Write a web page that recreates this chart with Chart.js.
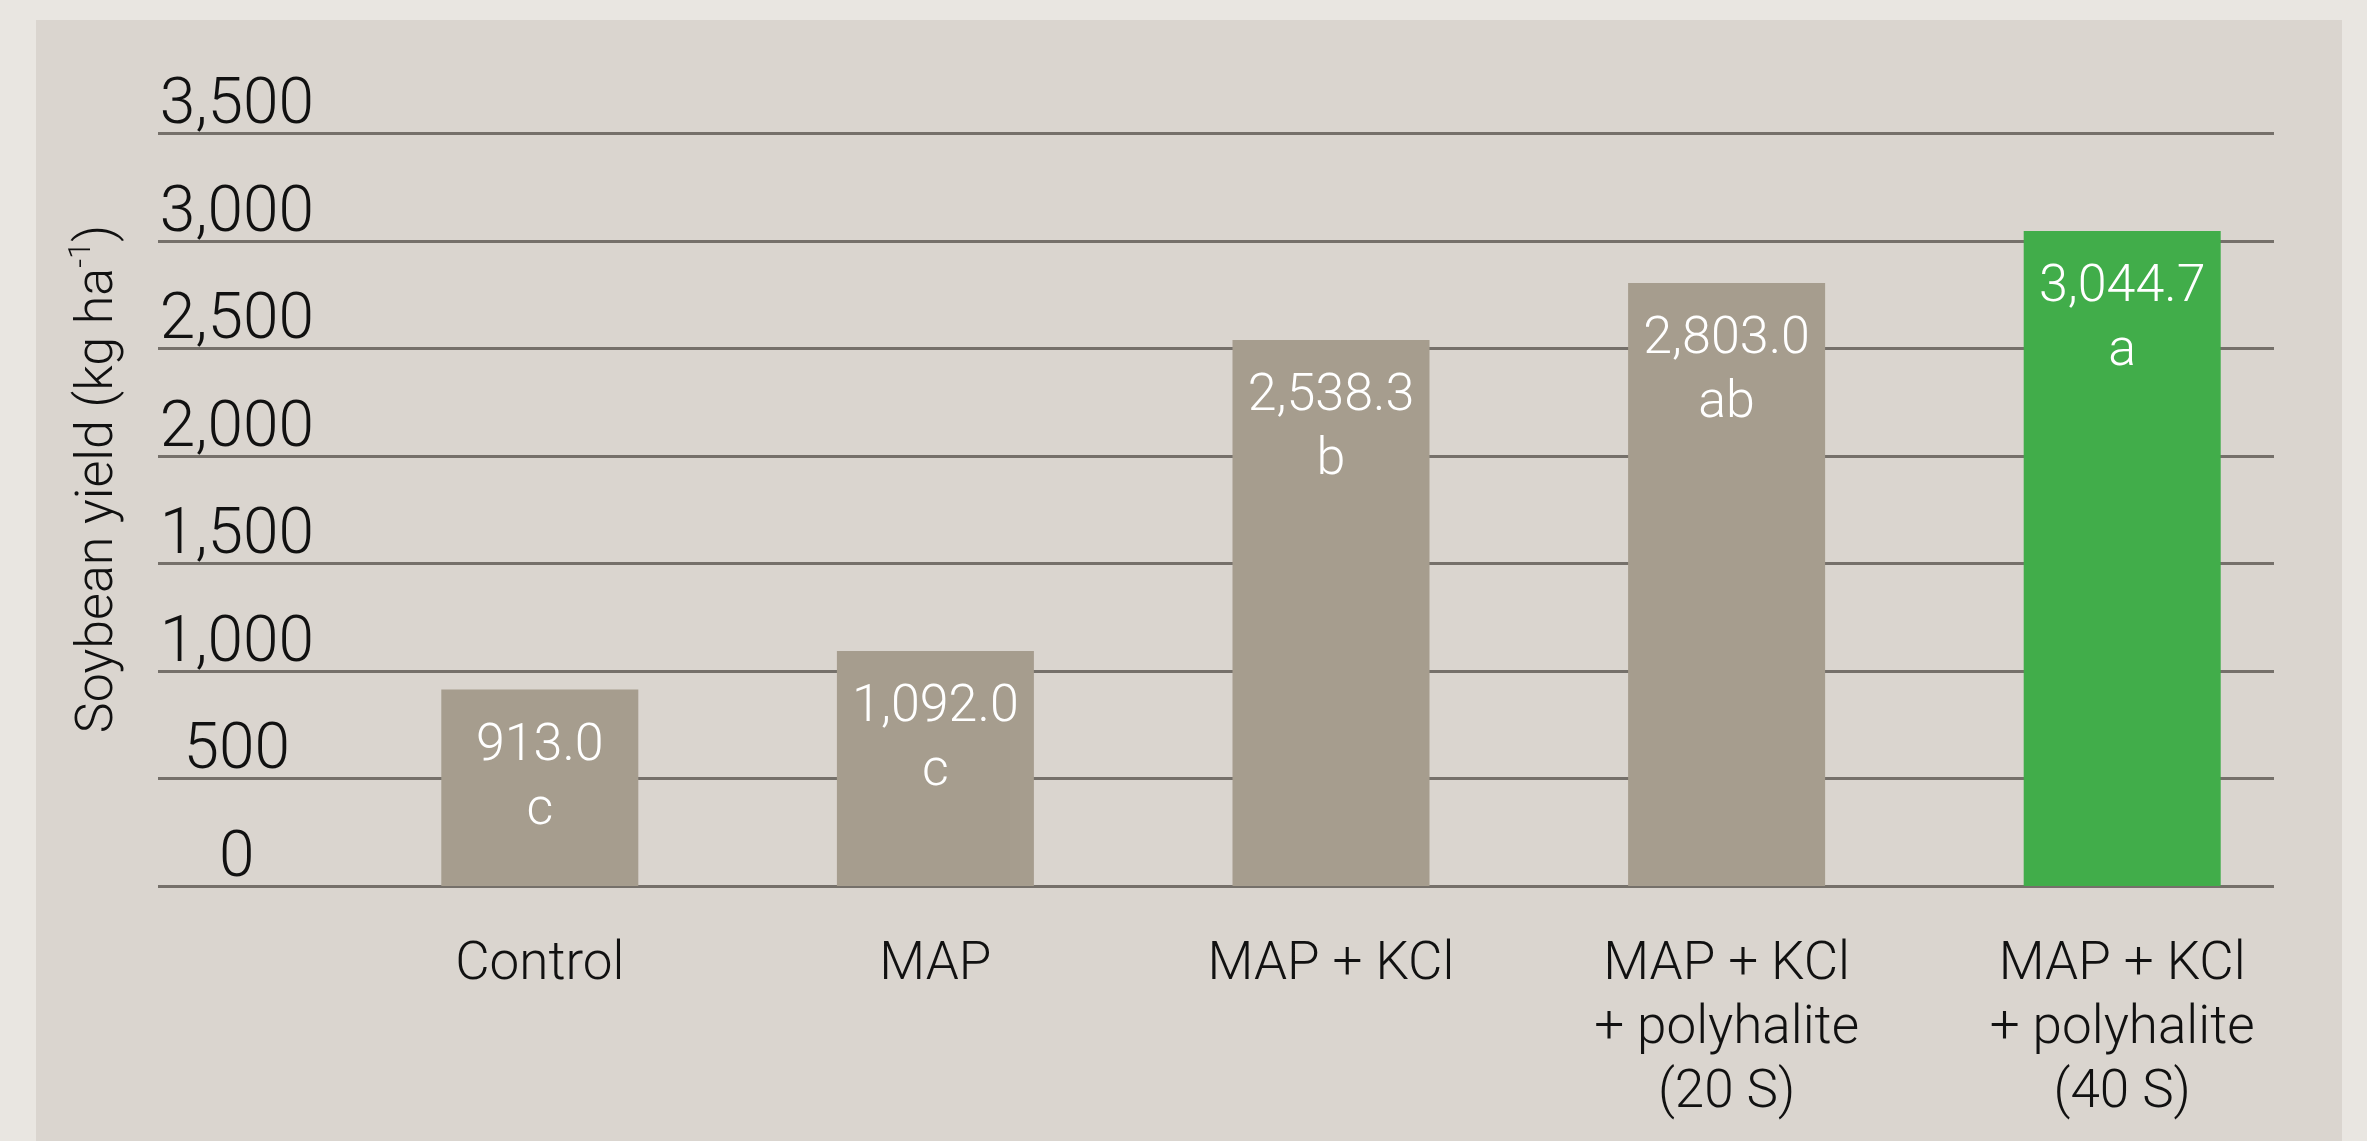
<!DOCTYPE html>
<html>
<head>
<meta charset="utf-8">
<script src="https://cdn.jsdelivr.net/npm/chart.js@4/dist/chart.umd.min.js"></script>
<style>
  html, body { margin: 0; padding: 0; background: #e9e6e1; }
  #c { display: block; }
</style>
</head>
<body>
<canvas id="c" width="2367" height="1141" style="width:2367px;height:1141px"></canvas>
<script>
const categories = [
  'Control',
  'MAP',
  'MAP + KCl',
  ['MAP + KCl', '+ polyhalite', '(20 S)'],
  ['MAP + KCl', '+ polyhalite', '(40 S)']
];
const yieldValues = [913.0, 1092.0, 2538.3, 2803.0, 3044.7];
const significanceLetters = ['c', 'c', 'b', 'ab', 'a'];
const barColors = ['#a69d8e', '#a69d8e', '#a69d8e', '#a69d8e', '#41ad4a'];
const yTicks = [0, 500, 1000, 1500, 2000, 2500, 3000, 3500];
const yTitleMain = 'Soybean yield (kg ha';
const yTitleSup = '-1';
const yTitleEnd = ')';

const FONT = 'Roboto, "Helvetica Neue", Arial, sans-serif';

const backgroundPlugin = {
  id: 'panelBg',
  beforeDraw(chart) {
    const ctx = chart.ctx;
    ctx.save();
    ctx.fillStyle = '#e9e6e1';
    ctx.fillRect(0, 0, chart.width, chart.height);
    ctx.fillStyle = '#dad5cf';
    ctx.fillRect(36, 20, 2306, chart.height - 20);
    ctx.restore();
  }
};

const gridPlugin = {
  id: 'customGrid',
  beforeDatasetsDraw(chart) {
    const ctx = chart.ctx;
    const y = chart.scales.y;
    ctx.save();
    ctx.strokeStyle = '#75706a';
    ctx.lineWidth = 3;
    y.ticks.forEach(t => {
      const py = Math.round(y.getPixelForValue(t.value)) + 0.5;
      ctx.beginPath();
      ctx.moveTo(158, py);
      ctx.lineTo(2274, py);
      ctx.stroke();
    });
    ctx.restore();
  }
};

const labelPlugin = {
  id: 'barLabels',
  afterDatasetsDraw(chart) {
    const ctx = chart.ctx;
    const meta = chart.getDatasetMeta(0);
    ctx.save();
    ctx.fillStyle = '#ffffff';
    ctx.textAlign = 'center';
    ctx.textBaseline = 'alphabetic';
    ctx.font = '300 52px ' + FONT;
    meta.data.forEach((el, i) => {
      const v = chart.data.datasets[0].data[i];
      const txt = v.toLocaleString('en-US', {minimumFractionDigits: 1, maximumFractionDigits: 1});
      ctx.fillText(txt, el.x, el.y + 70);
      ctx.fillText(significanceLetters[i], el.x, el.y + 134);
    });
    ctx.restore();
  }
};

const titlePlugin = {
  id: 'yTitle',
  afterDraw(chart) {
    const ctx = chart.ctx;
    ctx.save();
    ctx.translate(99, 479);
    ctx.rotate(-Math.PI / 2);
    ctx.fillStyle = '#111111';
    ctx.textBaseline = 'middle';
    ctx.textAlign = 'left';
    const mainFont = '300 52px ' + FONT;
    const supFont = '300 31px ' + FONT;
    ctx.font = mainFont;
    const w1 = ctx.measureText(yTitleMain).width;
    const w3 = ctx.measureText(yTitleEnd).width;
    ctx.font = supFont;
    const w2 = ctx.measureText(yTitleSup).width;
    const total = w1 + w2 + w3;
    let x = -total / 2;
    ctx.font = mainFont;
    ctx.fillText(yTitleMain, x, 0);
    x += w1;
    ctx.font = supFont;
    ctx.fillText(yTitleSup, x, -17);
    x += w2;
    ctx.font = mainFont;
    ctx.fillText(yTitleEnd, x, 0);
    ctx.restore();
  }
};

new Chart(document.getElementById('c'), {
  type: 'bar',
  data: {
    labels: categories,
    datasets: [{
      data: yieldValues,
      backgroundColor: barColors,
      hoverBackgroundColor: barColors,
      borderWidth: 0,
      categoryPercentage: 1.0,
      barPercentage: 0.498
    }]
  },
  options: {
    responsive: false,
    animation: false,
    devicePixelRatio: 1,
    events: [],
    layout: { padding: { top: 133, right: 47, left: 0, bottom: 0 } },
    plugins: {
      legend: { display: false },
      tooltip: { enabled: false },
      title: { display: false }
    },
    scales: {
      x: {
        grid: { display: false, drawTicks: false },
        border: { display: false },
        ticks: {
          color: '#111111',
          font: { family: FONT, size: 53, weight: '300', lineHeight: 1.2075 },
          padding: 48,
          maxRotation: 0,
          minRotation: 0,
          autoSkip: false
        },
        afterFit(scale) {
          scale.height = 255;
          scale.paddingLeft = 0;
          scale.paddingRight = 0;
        }
      },
      y: {
        min: 0,
        max: 3500,
        grid: { display: false, drawTicks: false },
        border: { display: false },
        afterBuildTicks(scale) {
          scale.ticks = yTicks.map(v => ({ value: v }));
        },
        ticks: {
          color: '#111111',
          font: { family: FONT, size: 64, weight: '300' },
          crossAlign: 'center',
          padding: 28,
          labelOffset: -26,
          callback: v => Number(v).toLocaleString('en-US')
        },
        afterFit(scale) {
          scale.width = 342;
          scale.paddingTop = 0;
          scale.paddingBottom = 0;
        }
      }
    }
  },
  plugins: [backgroundPlugin, gridPlugin, labelPlugin, titlePlugin]
});
</script>
</body>
</html>
